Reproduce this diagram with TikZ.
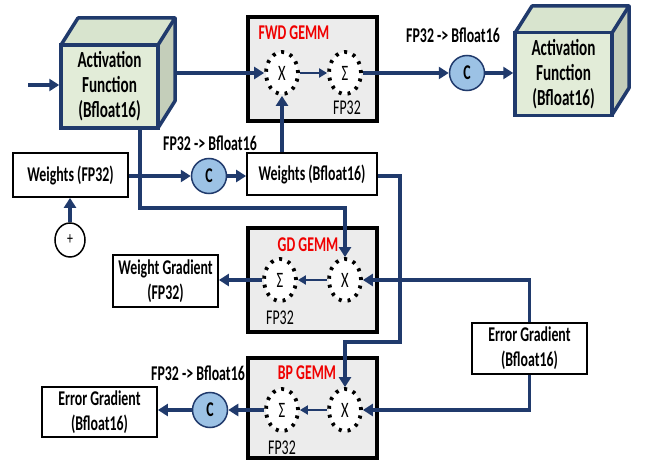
\documentclass[tikz,border=0pt]{standalone}
\usepackage{fontspec}
\setmainfont[FakeStretch=0.66]{Carlito}
\usetikzlibrary{arrows.meta,shapes.geometric}
\definecolor{navy}{RGB}{32,58,108}
\definecolor{cubefront}{RGB}{226,236,216}
\definecolor{cubetop}{RGB}{216,228,206}
\definecolor{cubeside}{RGB}{196,206,186}
\definecolor{cfill}{RGB}{156,194,229}
\definecolor{gemmfill}{RGB}{236,236,236}
\definecolor{gemmred}{RGB}{240,0,0}
\begin{document}
\begin{tikzpicture}[x=1pt,y=-1pt,
  font=\fontsize{21}{25}\selectfont,
  cubeface/.style={draw=navy,line width=3.5pt,fill=cubefront,minimum width=97pt,minimum height=83pt,inner sep=0pt,align=center,font=\fontsize{23}{25}\selectfont\bfseries},
  cubeextra/.style={draw=navy,line width=3.5pt,line join=round},
  gemm/.style={draw=black,line width=3.5pt,fill=gemmfill,minimum width=129pt,inner sep=0pt},
  opnode/.style={ellipse,draw=black,fill=white,line width=3.8pt,dash pattern=on 3pt off 6pt,minimum width=32pt,minimum height=42pt,inner sep=0pt,font=\fontsize{22}{25}\selectfont},
  cnode/.style={circle,draw=navy,line width=1.5pt,fill=cfill,minimum size=35pt,inner sep=0pt,font=\fontsize{21}{25}\selectfont\bfseries},
  databox/.style={draw=black,line width=1.8pt,fill=white,inner sep=0pt,align=center,font=\fontsize{21}{25}\selectfont\bfseries},
  conn/.style={draw=navy,line width=3.8pt,-{Triangle[length=10pt,width=12pt]}},
  thinconn/.style={draw=navy,line width=2.2pt,-{Triangle[length=8pt,width=9pt]}},
  conv/.style={font=\fontsize{21}{25}\selectfont\bfseries},
  gemmlabel/.style={font=\fontsize{21}{25}\selectfont\bfseries,text=gemmred},
  fplabel/.style={font=\fontsize{21}{25}\selectfont}
]
\path[use as bounding box,fill=white] (0,0) rectangle (647,462);

% GEMM boxes
\node[gemm,minimum height=104pt] (fwd) at (312.5,69) {};
\node[gemm,minimum height=104pt] (gd) at (312.5,280) {};
\node[gemm,minimum height=100pt] (bp) at (312.5,408) {};
\node[gemmlabel] (fwdl) at (294,33) {FWD GEMM};
\node[gemmlabel] (gdl) at (308,245) {GD GEMM};
\node[gemmlabel] (bpl) at (307,373) {BP GEMM};
\node[fplabel] (fwdfp) at (347,108) {FP32};
\node[fplabel] (gdfp) at (280,318) {FP32};
\node[fplabel] (bpfp) at (282,448) {FP32};

% operators
\node[opnode] (fx) at (282,73) {X};
\node[opnode] (fs) at (345,73) {Σ};
\node[opnode] (gs) at (280,280) {Σ};
\node[opnode] (gx) at (345,280) {X};
\node[opnode] (bs) at (282,410) {Σ};
\node[opnode] (bx) at (345,410) {X};

% left cube
\fill[cubetop] (61,45) -- (78,18) -- (175,18) -- (158,45) -- cycle;
\fill[cubeside] (158,45) -- (175,18) -- (175,101) -- (158,128) -- cycle;
\draw[cubeextra] (61,45) -- (78,18) -- (175,18) -- (158,45);
\draw[cubeextra] (175,18) -- (175,101) -- (158,128);
\node[cubeface] (actL) at (109.5,86.5) {Activation\\Function\\(Bfloat16)};
% right cube
\fill[cubetop] (515,33) -- (532,6) -- (629,6) -- (612,33) -- cycle;
\fill[cubeside] (612,33) -- (629,6) -- (629,88) -- (612,115) -- cycle;
\draw[cubeextra] (515,33) -- (532,6) -- (629,6) -- (612,33);
\draw[cubeextra] (629,6) -- (629,88) -- (612,115);
\node[cubeface] (actR) at (563.5,74) {Activation\\Function\\(Bfloat16)};

% converters
\node[cnode] (c1) at (467,73) {C};
\node[cnode] (c2) at (209,176) {C};
\node[cnode] (c3) at (210,410) {C};
\node[conv] (c1l) at (453,35) {FP32 -> Bfloat16};
\node[conv] (c2l) at (210,143) {FP32 -> Bfloat16};
\node[conv] (c3l) at (198,373) {FP32 -> Bfloat16};

% data boxes
\node[databox,minimum width=115pt,minimum height=44pt] (wf) at (70.5,175) {Weights (FP32)};
\node[databox,minimum width=130pt,minimum height=42pt] (wb) at (312,174) {Weights (Bfloat16)};
\node[databox,minimum width=105pt,minimum height=52pt] (wg) at (165.5,281) {Weight Gradient\\(FP32)};
\node[databox,minimum width=115pt,minimum height=51pt] (egr) at (529.5,348.5) {Error Gradient\\(Bfloat16)};
\node[databox,minimum width=115pt,minimum height=50pt] (egl) at (99.5,412) {Error Gradient\\(Bfloat16)};
\node[ellipse,draw=black,line width=1.5pt,fill=white,minimum width=30pt,minimum height=34pt,inner sep=0pt,font=\fontsize{18}{20}\selectfont] (plus) at (70,240) {+};

% coordinates
\coordinate (inL) at (28,85);
\coordinate (actLside) at (175,73);
\coordinate (actLbot) at (140,128);
\coordinate (wbturn) at (400,342);

% connectors
\draw[conn] (inL) -- (actL.west |- inL);
\draw[conn] (actLside) -- (fx.west);
\draw[thinconn] (fx.east) -- (fs.west);
\draw[conn] (fs.east) -- (c1.west);
\draw[conn] (c1.east) -- (actR.west |- c1);
\draw[conn] (actLbot) -- ++(0,80) -| (gx.north);
\draw[conn] (wf.east |- c2) -- (c2.west);
\draw[conn] (c2.east) -- (wb.west |- c2);
\draw[conn] (fx |- wb.north) -- (fx.south);
\draw[conn] (wb.east |- c2) -| (wbturn) -| (bx.north);
\draw[conn] (plus.north) -- (wf.south -| plus);
\draw[thinconn] (gx.west) -- (gs.east);
\draw[conn] (gs.west) -- (wg.east |- gs);
\draw[conn] (egr.north) |- (gx.east);
\draw[conn] (egr.south) |- (bx.east);
\draw[thinconn] (bx.west) -- (bs.east);
\draw[conn] (bs.west) -- (c3.east);
\draw[conn] (c3.west) -- (egl.east |- c3);
\end{tikzpicture}
\end{document}
